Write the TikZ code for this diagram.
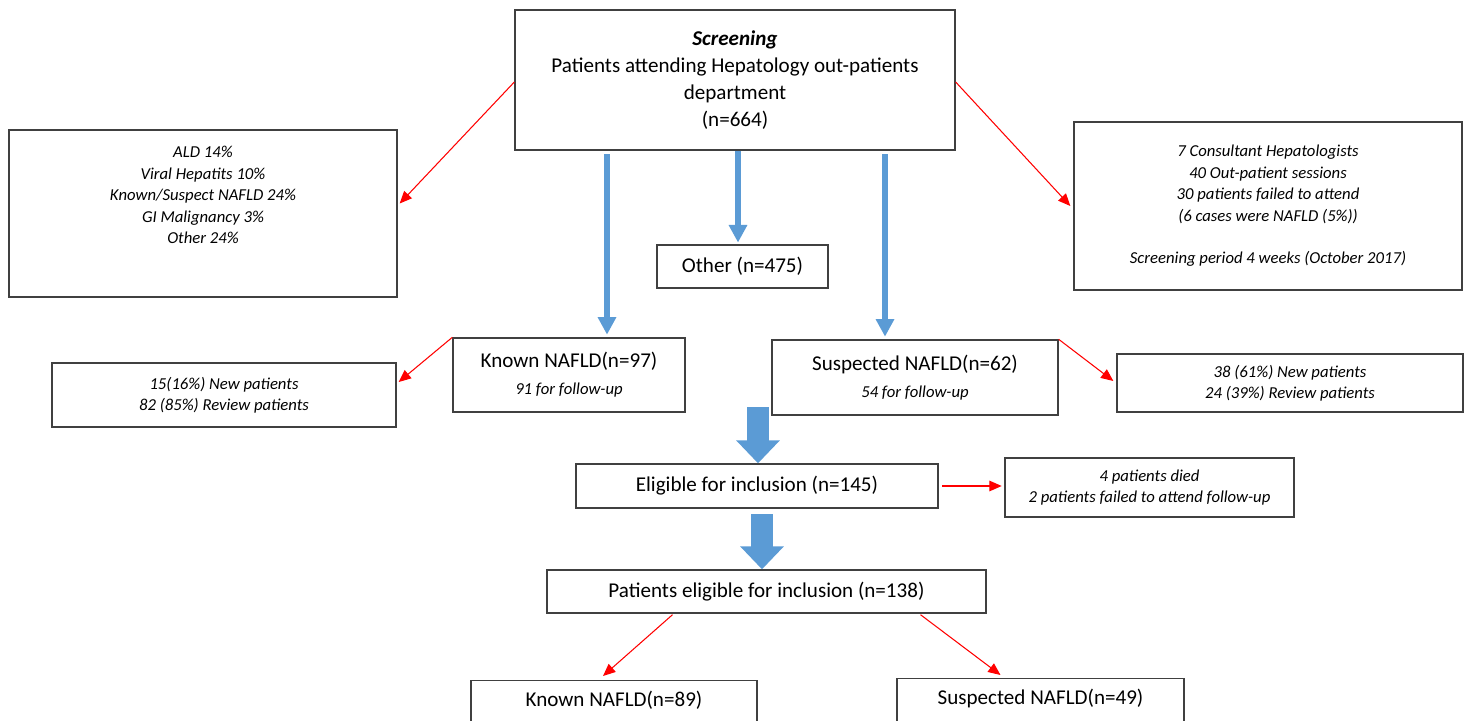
\documentclass[tikz,border=0pt]{standalone}
\usepackage{fontspec}
\setmainfont{Carlito}
\usepackage{tikz}
\usetikzlibrary{arrows.meta,calc,positioning}
\definecolor{flowblue}{HTML}{5B9BD5}
\tikzset{
  box/.style={draw=black!75, line width=0.8pt, fill=white, align=center, inner sep=2pt, font=\fontsize{12}{15.5}\selectfont},
  note/.style={box, font=\fontsize{9.5}{12.2}\selectfont\itshape},
  redarr/.style={-{Triangle[length=7pt,width=6pt]}, red, line width=0.6pt},
  bluearr/.style={-{Triangle[length=10pt,width=10pt]}, flowblue, line width=3.4pt},
  blockarr/.style={-{Triangle[length=13pt,width=24pt]}, flowblue, line width=12pt}
}

\begin{document}
\begin{tikzpicture}[x=0.02cm,y=-0.02cm]
  \useasboundingbox (0,0) rectangle (1469,720);
  \clip (0,0) rectangle (1469,720);
  % screening
  \node[box, minimum width=8.8cm, minimum height=2.8cm] (scr) at (735,80)
    {{\bfseries\itshape Screening}\\Patients attending Hepatology out-patients\\department\\(n=664)};
  \node[note, minimum width=7.76cm, minimum height=3.34cm] (ald) at (203,213.5)
    {ALD 14\%\\Viral Hepatits 10\%\\Known/Suspect NAFLD 24\%\\GI Malignancy 3\%\\Other 24\%\\[9pt]~};
  \node[note, minimum width=7.76cm, minimum height=3.36cm] (clinic) at (1268,206)
    {7 Consultant Hepatologists\\40 Out-patient sessions\\30 patients failed to attend\\(6 cases were NAFLD (5\%))\\~\\Screening period 4 weeks (October 2017)};
  \node[box, minimum width=3.42cm, minimum height=0.86cm] (other) at (742.5,266.5) {Other (n=475)};
  % known / suspected
  \node[box, minimum width=4.64cm, minimum height=1.48cm] (known97) at (569,375)
    {Known NAFLD(n=97)\\{\fontsize{9.5}{12}\selectfont\itshape 91 for follow-up}};
  \node[box, minimum width=5.72cm, minimum height=1.5cm] (susp62) at (915,377.5)
    {Suspected NAFLD(n=62)\\{\fontsize{9.5}{12}\selectfont\itshape 54 for follow-up}};
  \node[note, minimum width=6.88cm, minimum height=1.28cm] (newL) at (224,395)
    {15(16\%) New patients\\82 (85\%) Review patients};
  \node[note, minimum width=6.92cm, minimum height=1.16cm] (newR) at (1290,383)
    {38 (61\%) New patients\\24 (39\%) Review patients};
  % eligible
  \node[box, minimum width=7.24cm, minimum height=0.88cm] (elig145) at (757,486) {Eligible for inclusion (n=145)};
  \node[note, minimum width=5.78cm, minimum height=1.18cm] (died) at (1149.5,487.5)
    {4 patients died\\2 patients failed to attend follow-up};
  \node[box, minimum width=8.78cm, minimum height=0.86cm] (elig138) at (766.5,591.5) {Patients eligible for inclusion (n=138)};
  \node[box, minimum width=5.72cm, anchor=north, inner ysep=6pt, text depth=12pt] (known89) at (614,680) {Known NAFLD(n=89)};
  \node[box, minimum width=5.74cm, anchor=north, inner ysep=6pt, text depth=12pt] (susp49) at (1040.5,678) {Suspected NAFLD(n=49)};

  % blue arrows
  \coordinate (kx) at (607,0);
  \coordinate (ox) at (738,0);
  \coordinate (sx) at (885,0);
  \draw[bluearr, shorten <=2pt, shorten >=1.5pt] (scr.south -| kx) -- (known97.north -| kx);
  \draw[bluearr, shorten >=1pt] (scr.south -| ox) -- (other.north -| ox);
  \draw[bluearr, shorten <=2pt, shorten >=1.5pt] (scr.south -| sx) -- (susp62.north -| sx);
  \coordinate (b1) at (758,407);
  \coordinate (b2) at (762,514);
  \draw[blockarr] (b1) -- (b1 |- elig145.north);
  \draw[blockarr] (b2) -- (b2 |- elig138.north);

  % red arrows
  \draw[redarr] ($(scr.west)+(0,2)$) -- ($(ald.east)+(2,-10)$);
  \draw[redarr] ($(scr.east)+(0,2)$) -- ($(clinic.west)+(-3,0)$);
  \draw[redarr] (known97.north west) -- ($(newL.east)+(2,-13)$);
  \draw[redarr] (susp62.north east) -- ($(newR.west)+(-3,-2)$);
  \draw[redarr, shorten <=2pt, shorten >=1.5pt] (elig145.east) -- (elig145.east -| died.west);
  \draw[redarr] ($(elig138.south)+(-94,1)$) -- ($(known89.north)+(-11,-4)$);
  \draw[redarr] ($(elig138.south)+(154,1)$) -- ($(susp49.north)+(-40,-3)$);
\end{tikzpicture}
\end{document}
